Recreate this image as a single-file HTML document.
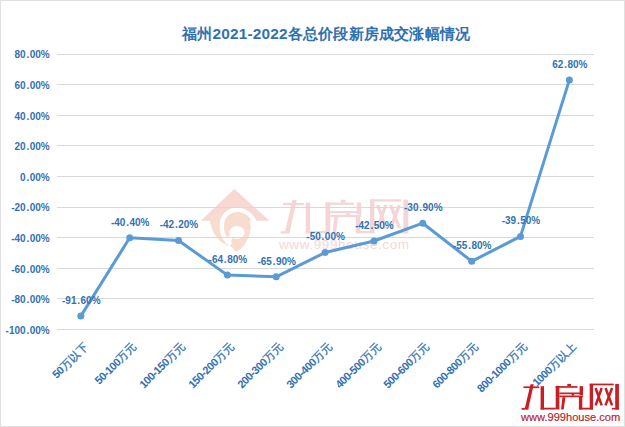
<!DOCTYPE html>
<html><head><meta charset="utf-8"><style>
html,body{margin:0;padding:0;background:#fff;}
body{width:625px;height:427px;position:relative;overflow:hidden;font-family:"Liberation Sans",sans-serif;}
.t{position:absolute;white-space:nowrap;line-height:1;}
.yl{font-size:10px;font-weight:bold;color:#3171b3;text-align:right;width:60px;}
.dl{font-size:10px;font-weight:bold;color:#3171b3;text-align:center;width:60px;}
.xl{font-size:11px;letter-spacing:-0.5px;font-weight:bold;color:#3171b3;transform:rotate(-45deg);transform-origin:100% 50%;text-align:right;}
.c{font-size:11px;letter-spacing:0.3px;font-weight:normal;-webkit-text-stroke:0.3px currentColor;}
.dot{margin:0 0.5px 0 0.8px;}
</style></head><body>

<div style="position:absolute;left:0;top:0;width:623px;height:425px;border:1px solid #e0e0e0;"></div>
<svg width="625" height="427" style="position:absolute;left:0;top:0">
<g><polygon points="234.3,189 200.8,220.7 269.6,220.7" fill="#f7d8d2"/><path d="M209.8,216 C210,232 218,243 232,247 L236,252 C243,248 248,241 250.5,232 C252,224 249,218 245,214 L 212,214 Z" fill="#f8dccd"/><path d="M251,221 L270,221 L270,254 L237,254 C245,246 252,236 251,221 Z" fill="#fff"/><path d="M231,244.5 C219,236 219,218 229,212 C238,207 250,211 254.5,222" stroke="#fff" stroke-width="4.4" fill="none"/><ellipse cx="237" cy="232.5" rx="7.6" ry="6.4" fill="#fff"/><path d="M231,236 C230,239 229,241 228,243" stroke="#fff" stroke-width="4" fill="none"/></g><g fill="#f4d6d6" opacity="1"><rect x="283.15" y="202.97" width="20.70" height="2.23"/><polygon points="292.45,200.09 296.77,200.09 289.83,231.40 285.12,231.40"/><rect x="280.66" y="231.13" width="9.17" height="2.36"/><rect x="305.68" y="202.71" width="4.45" height="30.52"/><rect x="305.68" y="230.87" width="19.91" height="2.36"/><rect x="325.46" y="202.18" width="4.85" height="31.05"/><rect x="325.46" y="202.58" width="28.43" height="2.23"/><rect x="340.66" y="199.69" width="4.85" height="3.01"/><rect x="356.77" y="202.58" width="4.45" height="11.92"/><rect x="330.31" y="210.96" width="30.92" height="2.23"/><rect x="330.31" y="214.89" width="30.92" height="2.23"/><rect x="346.29" y="212.92" width="3.28" height="2.10"/><polygon points="334.24,217.12 338.17,217.12 335.94,233.23 332.54,233.23"/><rect x="355.86" y="216.85" width="4.45" height="16.38"/><rect x="355.86" y="230.87" width="18.47" height="2.36"/><rect x="370.00" y="199.69" width="4.39" height="33.54"/><rect x="370.00" y="199.30" width="31.44" height="2.23"/><rect x="403.41" y="199.69" width="4.85" height="33.54"/><rect x="398.95" y="231.13" width="9.30" height="2.10"/><path d="M377.73,205.06 L385.72,227.86 M385.72,205.06 L377.73,227.86" stroke="#f4d6d6" stroke-width="3.28" fill="none"/><path d="M390.70,205.06 L399.35,227.86 M399.35,205.06 L390.70,227.86" stroke="#f4d6d6" stroke-width="3.28" fill="none"/></g><text x="279" y="248.5" font-family="Liberation Sans" font-size="13.5" letter-spacing="0.62" fill="#f4d6d6">www.999house.com</text>
<line x1="57" x2="594" y1="54.5" y2="54.5" stroke="#d9d9d9" stroke-width="1"/>
<line x1="57" x2="594" y1="84.5" y2="84.5" stroke="#d9d9d9" stroke-width="1"/>
<line x1="57" x2="594" y1="115.5" y2="115.5" stroke="#d9d9d9" stroke-width="1"/>
<line x1="57" x2="594" y1="145.5" y2="145.5" stroke="#d9d9d9" stroke-width="1"/>
<line x1="57" x2="594" y1="176.5" y2="176.5" stroke="#d9d9d9" stroke-width="1"/>
<line x1="57" x2="594" y1="207.5" y2="207.5" stroke="#d9d9d9" stroke-width="1"/>
<line x1="57" x2="594" y1="237.5" y2="237.5" stroke="#d9d9d9" stroke-width="1"/>
<line x1="57" x2="594" y1="268.5" y2="268.5" stroke="#d9d9d9" stroke-width="1"/>
<line x1="57" x2="594" y1="298.5" y2="298.5" stroke="#d9d9d9" stroke-width="1"/>
<line x1="57" x2="594" y1="329.5" y2="329.5" stroke="#d9d9d9" stroke-width="1"/>
<polyline points="80.8,316.1 129.7,237.8 178.5,240.5 227.4,275.1 276.2,276.8 325.1,252.5 374.0,241.0 422.8,223.2 471.7,261.3 520.5,236.4 569.4,79.9" fill="none" stroke="#5b9bd5" stroke-width="3" stroke-linejoin="round" stroke-linecap="round"/>
<circle cx="80.8" cy="316.1" r="3.5" fill="#5b9bd5"/>
<circle cx="129.7" cy="237.8" r="3.5" fill="#5b9bd5"/>
<circle cx="178.5" cy="240.5" r="3.5" fill="#5b9bd5"/>
<circle cx="227.4" cy="275.1" r="3.5" fill="#5b9bd5"/>
<circle cx="276.2" cy="276.8" r="3.5" fill="#5b9bd5"/>
<circle cx="325.1" cy="252.5" r="3.5" fill="#5b9bd5"/>
<circle cx="374.0" cy="241.0" r="3.5" fill="#5b9bd5"/>
<circle cx="422.8" cy="223.2" r="3.5" fill="#5b9bd5"/>
<circle cx="471.7" cy="261.3" r="3.5" fill="#5b9bd5"/>
<circle cx="520.5" cy="236.4" r="3.5" fill="#5b9bd5"/>
<circle cx="569.4" cy="79.9" r="3.5" fill="#5b9bd5"/>
</svg>
<div class="t" style="left:182px;top:25.5px;font-size:15.4px;letter-spacing:0.2px;font-weight:bold;color:#3171b3">福州2021-2022各总价段新房成交涨幅情况</div>
<div class="t yl" style="left:-10.3px;top:50.3px">80<span class="dot">.</span>00%</div>
<div class="t yl" style="left:-10.3px;top:80.9px">60<span class="dot">.</span>00%</div>
<div class="t yl" style="left:-10.3px;top:111.5px">40<span class="dot">.</span>00%</div>
<div class="t yl" style="left:-10.3px;top:142.1px">20<span class="dot">.</span>00%</div>
<div class="t yl" style="left:-10.3px;top:172.7px">0<span class="dot">.</span>00%</div>
<div class="t yl" style="left:-10.3px;top:203.3px">-20<span class="dot">.</span>00%</div>
<div class="t yl" style="left:-10.3px;top:233.9px">-40<span class="dot">.</span>00%</div>
<div class="t yl" style="left:-10.3px;top:264.5px">-60<span class="dot">.</span>00%</div>
<div class="t yl" style="left:-10.3px;top:295.1px">-80<span class="dot">.</span>00%</div>
<div class="t yl" style="left:-10.3px;top:325.7px">-100<span class="dot">.</span>00%</div>
<div class="t dl" style="left:51.3px;top:295.8px">-91<span class="dot">.</span>60%</div>
<div class="t dl" style="left:100.2px;top:217.5px">-40<span class="dot">.</span>40%</div>
<div class="t dl" style="left:149.0px;top:220.2px">-42<span class="dot">.</span>20%</div>
<div class="t dl" style="left:197.9px;top:254.8px">-64<span class="dot">.</span>80%</div>
<div class="t dl" style="left:246.7px;top:256.5px">-65<span class="dot">.</span>90%</div>
<div class="t dl" style="left:295.6px;top:232.2px">-50<span class="dot">.</span>00%</div>
<div class="t dl" style="left:344.5px;top:220.7px">-42<span class="dot">.</span>50%</div>
<div class="t dl" style="left:393.3px;top:202.9px">-30<span class="dot">.</span>90%</div>
<div class="t dl" style="left:442.2px;top:241.0px">-55<span class="dot">.</span>80%</div>
<div class="t dl" style="left:491.0px;top:216.1px">-39<span class="dot">.</span>50%</div>
<div class="t dl" style="left:539.9px;top:59.6px">62<span class="dot">.</span>80%</div>
<div class="t xl" style="right:539.2px;top:339.0px">50<span class="c">万以下</span></div>
<div class="t xl" style="right:490.3px;top:339.0px">50-100<span class="c">万元</span></div>
<div class="t xl" style="right:441.5px;top:339.0px">100-150<span class="c">万元</span></div>
<div class="t xl" style="right:392.6px;top:339.0px">150-200<span class="c">万元</span></div>
<div class="t xl" style="right:343.8px;top:339.0px">200-300<span class="c">万元</span></div>
<div class="t xl" style="right:294.9px;top:339.0px">300-400<span class="c">万元</span></div>
<div class="t xl" style="right:246.0px;top:339.0px">400-500<span class="c">万元</span></div>
<div class="t xl" style="right:197.2px;top:339.0px">500-600<span class="c">万元</span></div>
<div class="t xl" style="right:148.3px;top:339.0px">600-800<span class="c">万元</span></div>
<div class="t xl" style="right:99.5px;top:339.0px">800-1000<span class="c">万元</span></div>
<div class="t xl" style="right:50.6px;top:339.0px">1000<span class="c">万以上</span></div>
<svg width="625" height="427" style="position:absolute;left:0;top:0"><g fill="#c81e24" opacity="1"><rect x="523.40" y="386.40" width="15.80" height="1.70"/><polygon points="530.50,384.20 533.80,384.20 528.50,408.10 524.90,408.10"/><rect x="521.50" y="407.90" width="7.00" height="1.80"/><rect x="540.60" y="386.20" width="3.40" height="23.30"/><rect x="540.60" y="407.70" width="15.20" height="1.80"/><rect x="555.70" y="385.80" width="3.70" height="23.70"/><rect x="555.70" y="386.10" width="21.70" height="1.70"/><rect x="567.30" y="383.90" width="3.70" height="2.30"/><rect x="579.60" y="386.10" width="3.40" height="9.10"/><rect x="559.40" y="392.50" width="23.60" height="1.70"/><rect x="559.40" y="395.50" width="23.60" height="1.70"/><rect x="571.60" y="394.00" width="2.50" height="1.60"/><polygon points="562.40,397.20 565.40,397.20 563.70,409.50 561.10,409.50"/><rect x="578.90" y="397.00" width="3.40" height="12.50"/><rect x="578.90" y="407.70" width="14.10" height="1.80"/><rect x="589.70" y="383.90" width="3.35" height="25.60"/><rect x="589.70" y="383.60" width="24.00" height="1.70"/><rect x="615.20" y="383.90" width="3.70" height="25.60"/><rect x="611.80" y="407.90" width="7.10" height="1.60"/><path d="M595.60,388.00 L601.70,405.40 M601.70,388.00 L595.60,405.40" stroke="#c81e24" stroke-width="2.50" fill="none"/><path d="M605.50,388.00 L612.10,405.40 M612.10,388.00 L605.50,405.40" stroke="#c81e24" stroke-width="2.50" fill="none"/></g><text x="521" y="421.3" font-family="Liberation Sans" font-size="11.1" fill="#b82028" stroke="#b82028" stroke-width="0.15">www.999house.com</text></svg></body></html>
